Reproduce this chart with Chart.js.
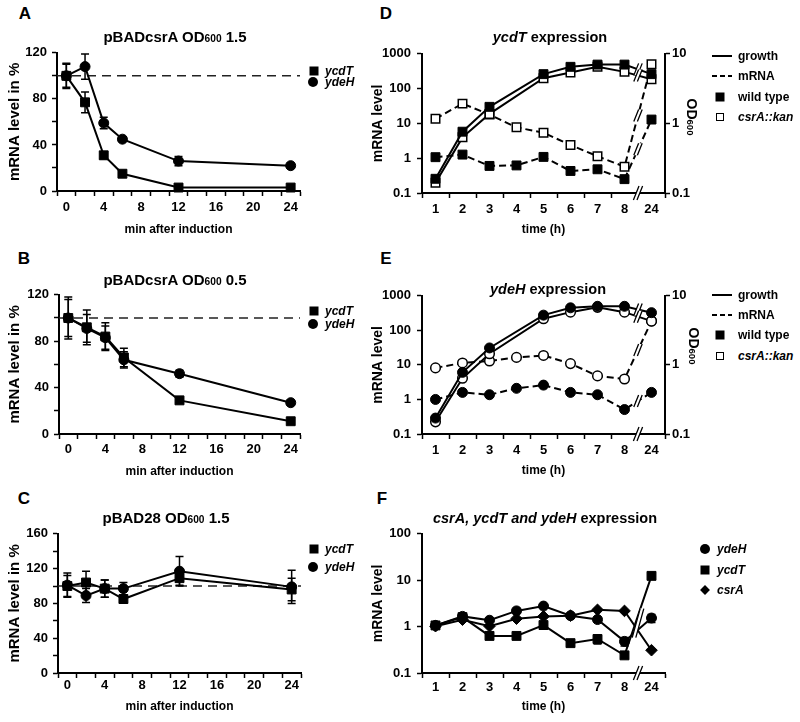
<!DOCTYPE html>
<html>
<head>
<meta charset="utf-8">
<title>csrA, ycdT and ydeH expression</title>
<script src="https://cdn.jsdelivr.net/npm/chart.js@4.4.1/dist/chart.umd.min.js"></script>
<style>
  body { margin: 0; background: #fff; }
  #fig { position: relative; width: 800px; height: 722px; overflow: hidden;
         font-family: "Liberation Sans", Arial, sans-serif; font-weight: bold; color: #000; }
  canvas { position: absolute; }
  .t { position: absolute; white-space: nowrap; transform: translate(-50%, -50%); line-height: 1; }
  .s { font-size: 0.68em; }
  .lt { position: absolute; white-space: nowrap; transform: translateY(-50%); font-size: 12px; line-height: 1; }
  .mk { position: absolute; box-sizing: border-box; transform: translate(-50%, -50%); }
  .fs { width: 9px; height: 9px; background: #000; }
  .os { width: 8px; height: 8px; border: 1.5px solid #000; background: #fff; }
  .fc { width: 10px; height: 10px; border-radius: 50%; background: #000; }
  .fd { width: 7px; height: 7px; background: #000; transform: translate(-50%, -50%) rotate(45deg); }
  .ln { width: 20px; height: 2px; background: #000; transform: translateY(-50%); }
  .dl { width: 20px; height: 2px; transform: translateY(-50%);
        background: repeating-linear-gradient(90deg, #000 0 5px, transparent 5px 8px); }
</style>
</head>
<body>
<div id="fig">
  <canvas id="cA" style="left:0;top:40px" width="310" height="200"></canvas>
  <canvas id="cB" style="left:0;top:282px" width="310" height="200"></canvas>
  <canvas id="cC" style="left:0;top:521px" width="310" height="200"></canvas>
  <canvas id="cD" style="left:365px;top:40px" width="335" height="200"></canvas>
  <canvas id="cE" style="left:365px;top:282px" width="335" height="200"></canvas>
  <canvas id="cF" style="left:365px;top:520px" width="310" height="201"></canvas>

  <!-- panel letters -->
  <div class="t" style="left:25px;top:13px;font-size:17px">A</div>
  <div class="t" style="left:24px;top:258px;font-size:17px">B</div>
  <div class="t" style="left:24px;top:498px;font-size:17px">C</div>
  <div class="t" style="left:386px;top:13px;font-size:17px">D</div>
  <div class="t" style="left:386px;top:258px;font-size:17px">E</div>
  <div class="t" style="left:382px;top:498px;font-size:17px">F</div>

  <!-- panel titles -->
  <div class="t" style="left:175px;top:37px;font-size:15px">pBADcsrA OD<span class="s">600</span> 1.5</div>
  <div class="t" style="left:175px;top:280px;font-size:15px">pBADcsrA OD<span class="s">600</span> 0.5</div>
  <div class="t" style="left:166px;top:518px;font-size:15px">pBAD28 OD<span class="s">600</span> 1.5</div>
  <div class="t" style="left:550px;top:37px;font-size:14.5px"><i>ycdT</i> expression</div>
  <div class="t" style="left:548px;top:289px;font-size:14.5px"><i>ydeH</i> expression</div>
  <div class="t" style="left:545px;top:518px;font-size:14.5px"><i>csrA, ycdT and ydeH</i> expression</div>

  <!-- right axis titles -->
  <div class="t" style="left:692px;top:117px;font-size:14px;transform:translate(-50%,-50%) rotate(90deg)">OD<span class="s">600</span></div>
  <div class="t" style="left:694px;top:346px;font-size:14px;transform:translate(-50%,-50%) rotate(90deg)">OD<span class="s">600</span></div>

  <!-- legends A-C -->
  <div class="mk fs" style="left:314px;top:71px"></div><div class="lt" style="left:325px;top:71px"><i>ycdT</i></div>
  <div class="mk fc" style="left:313px;top:82px"></div><div class="lt" style="left:325px;top:82px"><i>ydeH</i></div>
  <div class="mk fs" style="left:314px;top:311px"></div><div class="lt" style="left:325px;top:311px"><i>ycdT</i></div>
  <div class="mk fc" style="left:313px;top:324px"></div><div class="lt" style="left:325px;top:324px"><i>ydeH</i></div>
  <div class="mk fs" style="left:314px;top:549px"></div><div class="lt" style="left:325px;top:549px"><i>ycdT</i></div>
  <div class="mk fc" style="left:313px;top:567px"></div><div class="lt" style="left:325px;top:567px"><i>ydeH</i></div>

  <!-- legend D -->
  <div class="mk ln" style="left:712px;top:56px;transform:translateY(-50%)"></div><div class="lt" style="left:738px;top:56px">growth</div>
  <div class="mk dl" style="left:712px;top:76px;transform:translateY(-50%)"></div><div class="lt" style="left:738px;top:76px">mRNA</div>
  <div class="mk fs" style="left:720px;top:97px"></div><div class="lt" style="left:738px;top:97px">wild type</div>
  <div class="mk os" style="left:720px;top:117px"></div><div class="lt" style="left:738px;top:117px"><i>csrA::kan</i></div>

  <!-- legend E -->
  <div class="mk ln" style="left:712px;top:295px;transform:translateY(-50%)"></div><div class="lt" style="left:738px;top:295px">growth</div>
  <div class="mk dl" style="left:712px;top:315px;transform:translateY(-50%)"></div><div class="lt" style="left:738px;top:315px">mRNA</div>
  <div class="mk fs" style="left:720px;top:335px"></div><div class="lt" style="left:738px;top:335px">wild type</div>
  <div class="mk os" style="left:720px;top:356px"></div><div class="lt" style="left:738px;top:356px"><i>csrA::kan</i></div>

  <!-- legend F -->
  <div class="mk fc" style="left:705px;top:549px"></div><div class="lt" style="left:717px;top:549px"><i>ydeH</i></div>
  <div class="mk fs" style="left:705px;top:570px"></div><div class="lt" style="left:717px;top:570px"><i>ycdT</i></div>
  <div class="mk fd" style="left:705px;top:590px"></div><div class="lt" style="left:717px;top:590px"><i>csrA</i></div>
</div>

<script>
// ---- data: panels A-C (mRNA level in % after induction) ----
const minutes = [0, 2, 4, 6, 12, 24];
const minAxis = [-1, 25];
const refLevel = 100;

const aYcdT = [100, 77, 31, 15, 3, 3];
const aYcdTErr = [10, 9, 3, 1, 1, 1];
const aYdeH = [100, 108, 59, 45, 26, 22];
const aYdeHErr = [11, 11, 5, 2, 4, 2];

const bYcdT = [100, 92, 84, 66, 29, 11];
const bYcdTErr = [18, 15, 12, 8, 2, 1];
const bYdeH = [100, 91, 83, 64, 52, 27];
const bYdeHErr = [16, 12, 10, 7, 3, 2];

const cYcdT = [100, 104, 97, 85, 109, 96];
const cYcdTErr = [12, 13, 10, 4, 8, 13];
const cYdeH = [101, 89, 97, 97, 117, 99];
const cYdeHErr = [14, 8, 10, 7, 17, 19];

// ---- data: panels D-F (time course, x = hours with a break before 24) ----
const hours = ['1', '2', '3', '4', '5', '6', '7', '8', '24'];
const breakAt = 8.5;

// growth in OD600 (right axis), mRNA level (left axis)
const dGrowthWt  = [0.16, 0.76, 1.73, null, 5.1, 6.5, 7.0, 7.0, 5.1];
const dGrowthKan = [0.14, 0.63, 1.37, null, 4.46, 5.4, 6.5, 5.5, 4.3];
const dMrnaWt    = [1.07, 1.27, 0.6, 0.62, 1.09, 0.43, 0.48, 0.25, 12.9];
const dMrnaKan   = [13.6, 37, 17.9, 7.7, 5.4, 2.4, 1.14, 0.57, 500];

const eGrowthWt  = [0.17, 0.78, 1.76, null, 5.25, 6.7, 7.05, 7.05, 5.7];
const eGrowthKan = [0.15, 0.64, 1.45, null, 4.66, 5.8, 6.8, 5.8, 4.3];
const eMrnaWt    = [1.0, 1.6, 1.37, 2.1, 2.6, 1.6, 1.37, 0.51, 1.6];
const eMrnaKan   = [8.2, 11.4, 13, 16.5, 18.8, 10.9, 4.8, 3.9, 186];

const fYdeH    = [1.06, 1.66, 1.37, 2.18, 2.77, 1.72, 1.42, 0.48, 1.53];
const fYdeHErr = [0, 0, 0, 0, 0, 0, 0, 0.1, 0.3];
const fYcdT    = [1.06, 1.6, 0.63, 0.63, 1.08, 0.44, 0.54, 0.24, 12.4];
const fYcdTErr = [0, 0.25, 0, 0, 0, 0, 0.12, 0.03, 0];
const fCsrA    = [1.02, 1.41, 1.02, 1.48, 1.66, 1.72, 2.3, 2.18, 0.31];

// ---- helpers ----
Chart.defaults.font.family = '"Liberation Sans", Arial, sans-serif';
Chart.defaults.font.weight = 'bold';
Chart.defaults.color = '#000';

const pairs = (xs, ys) => xs.map((x, i) => ({x, y: ys[i]}));
const hourPts = ys => ys.map((y, i) => ({x: i + 1, y}));
const isDecade = v => Math.abs(Math.log10(v) - Math.round(Math.log10(v))) < 1e-6;
const decadeLabel = v => {
  if (!isDecade(v)) return '';
  const e = Math.round(Math.log10(v));
  return e < 0 ? (10 ** e).toFixed(-e) : String(10 ** e);
};
const hide = 'rgba(0,0,0,0)';
const tickFont = {size: 13, weight: 'bold'};
const axisBorder = {display: true, color: '#000', width: 2};

const markers = {
  sq:  {pointStyle: 'rect', pointRadius: 6.3, pointBackgroundColor: '#000'},
  osq: {pointStyle: 'rect', pointRadius: 6, pointBackgroundColor: '#fff', pointBorderWidth: 1.5},
  ci:  {pointStyle: 'circle', pointRadius: 5, pointBackgroundColor: '#000'},
  oci: {pointStyle: 'circle', pointRadius: 4.8, pointBackgroundColor: '#fff', pointBorderWidth: 1.5},
  di:  {pointStyle: 'rectRot', pointRadius: 5.8, pointBackgroundColor: '#000'}
};

function line(points, marker, extra) {
  return Object.assign({
    data: points, borderColor: '#000', borderWidth: 2, pointBorderColor: '#000',
    pointBorderWidth: 1, pointHoverRadius: 0, clip: false, spanGaps: true, tension: 0
  }, markers[marker], extra || {});
}

// vertical error bars from dataset.errors
const errorBars = {
  id: 'errorBars',
  afterDatasetsDraw(chart) {
    const {ctx} = chart;
    chart.data.datasets.forEach((ds, i) => {
      if (!ds.errors) return;
      const meta = chart.getDatasetMeta(i);
      const ys = chart.scales[meta.yAxisID];
      ctx.save();
      ctx.strokeStyle = '#000';
      ctx.lineWidth = 1.5;
      meta.data.forEach((pt, j) => {
        const e = ds.errors[j];
        if (!e) return;
        const v = ds.data[j].y;
        const top = ys.getPixelForValue(v + e);
        const bot = ys.getPixelForValue(Math.max(v - e, ys.min));
        ctx.beginPath();
        ctx.moveTo(pt.x, top); ctx.lineTo(pt.x, bot);
        ctx.moveTo(pt.x - 4, top); ctx.lineTo(pt.x + 4, top);
        ctx.moveTo(pt.x - 4, bot); ctx.lineTo(pt.x + 4, bot);
        ctx.stroke();
      });
      ctx.restore();
    });
  }
};

function slash(ctx, x, y, h) {
  const g = 1.8, s = Math.min(h * 0.4, 4);
  ctx.fillStyle = '#fff';
  ctx.beginPath();
  ctx.moveTo(x - g - s, y + h); ctx.lineTo(x - g + s, y - h);
  ctx.lineTo(x + g + s, y - h); ctx.lineTo(x + g - s, y + h);
  ctx.closePath();
  ctx.fill();
  ctx.strokeStyle = '#000';
  ctx.lineWidth = 1.3;
  ctx.beginPath();
  ctx.moveTo(x - g - s, y + h); ctx.lineTo(x - g + s, y - h);
  ctx.moveTo(x + g - s, y + h); ctx.lineTo(x + g + s, y - h);
  ctx.stroke();
}

// "//" marks on the x axis and on every line between 8 h and 24 h
const axisBreaks = {
  id: 'axisBreaks',
  afterDatasetsDraw(chart, args, opts) {
    const {ctx, chartArea} = chart;
    const bx = chart.scales.x.getPixelForValue(breakAt);
    const i0 = Math.floor(breakAt) - 1;
    const mids = [];
    chart.data.datasets.forEach((ds, i) => {
      const pts = chart.getDatasetMeta(i).data;
      const a = pts[i0], b = pts[i0 + 1];
      mids.push({x: (a.x + b.x) / 2, y: (a.y + b.y) / 2});
    });
    ctx.save();
    if (opts.group) {
      const ys = mids.map(m => m.y);
      const lo = Math.min(...ys), hi = Math.max(...ys);
      slash(ctx, bx, (lo + hi) / 2, (hi - lo) / 2 + 7);
    } else {
      mids.forEach(m => slash(ctx, m.x, m.y, 6));
    }
    slash(ctx, bx, chartArea.bottom, 7);
    ctx.restore();
  }
};

// ---- panels A-C ----
function courseChart(id, p, yMax, ycdT, ycdTErr, ydeH, ydeHErr) {
  return new Chart(document.getElementById(id), {
    type: 'line',
    data: {datasets: [
      line(pairs(minutes, ydeH), 'ci', {errors: ydeHErr}),
      line(pairs(minutes, ycdT), 'sq', {errors: ycdTErr}),
      {data: [{x: minAxis[0], y: refLevel}, {x: minAxis[1], y: refLevel}], borderColor: '#222',
       borderWidth: 1.5, borderDash: [9, 6], pointRadius: 0, clip: false}
    ]},
    options: {
      responsive: false, animation: false, events: [],
      layout: {padding: {top: p.top, right: p.right, left: 0, bottom: 0}},
      plugins: {legend: {display: false}, tooltip: {enabled: false}},
      scales: {
        x: {
          type: 'linear', min: minAxis[0], max: minAxis[1],
          afterFit: s => { s.height = p.xh; },
          border: axisBorder,
          grid: {drawOnChartArea: false, tickLength: 5, tickWidth: 1.5,
                 tickColor: c => Math.abs(c.tick.value % 2) === 1 ? '#000' : hide},
          ticks: {stepSize: 1, autoSkip: false, maxRotation: 0, padding: p.xPad, font: tickFont,
                  callback: v => (v >= 0 && v % 4 === 0) ? String(v) : ''},
          title: {display: true, text: 'min after induction', font: {size: 12, weight: 'bold'},
                  padding: {top: 0, bottom: p.xTitle}}
        },
        y: {
          min: 0, max: yMax,
          afterFit: s => { s.width = p.yw; },
          border: axisBorder,
          grid: {drawOnChartArea: false, tickLength: 5, tickWidth: 1.5, tickColor: '#000'},
          ticks: {stepSize: 20, autoSkip: false, padding: 5, font: tickFont,
                  callback: v => v % 40 === 0 ? String(v) : ''},
          title: {display: true, text: 'mRNA level in %', font: {size: 15, weight: 'bold'},
                  padding: {top: 6, bottom: 0}}
        }
      }
    },
    plugins: [errorBars]
  });
}

function hourAxis(p) {
  return {
    type: 'linear', min: 0.5, max: hours.length + 0.5,
    afterFit: s => { s.height = p.xh; },
    border: axisBorder,
    grid: {drawOnChartArea: false, tickLength: 5, tickWidth: 1.5,
           tickColor: c => (!Number.isInteger(c.tick.value) && c.tick.value !== breakAt) ? '#000' : hide},
    ticks: {stepSize: 0.5, autoSkip: false, maxRotation: 0, padding: p.xPad, font: tickFont,
            callback: v => Number.isInteger(v) ? hours[v - 1] : ''},
    title: {display: true, text: 'time (h)', font: {size: 12, weight: 'bold'},
            padding: {top: 0, bottom: p.xTitle}}
  };
}

function logAxis(p, max, pos, width, titleText) {
  const ax = {
    type: 'logarithmic', position: pos, min: 0.1, max: max,
    afterFit: s => { s.width = width; },
    border: axisBorder,
    grid: {drawOnChartArea: false, tickLength: 5, tickWidth: 1.5,
           tickColor: c => isDecade(c.tick.value) ? '#000' : hide},
    ticks: {autoSkip: false, padding: pos === 'left' ? 6 : 2, font: tickFont, callback: decadeLabel}
  };
  if (titleText) {
    ax.title = {display: true, text: titleText, font: {size: 14, weight: 'bold'}, padding: {top: 4.6, bottom: 0}};
  }
  return ax;
}

// ---- panels D-E ----
function expressionChart(id, p, growthWt, growthKan, mrnaWt, mrnaKan, mk) {
  return new Chart(document.getElementById(id), {
    type: 'line',
    data: {datasets: [
      line(hourPts(growthWt), mk, {yAxisID: 'y2'}),
      line(hourPts(growthKan), 'o' + mk, {yAxisID: 'y2'}),
      line(hourPts(mrnaWt), mk, {borderDash: [7, 4]}),
      line(hourPts(mrnaKan), 'o' + mk, {borderDash: [7, 4]})
    ]},
    options: {
      responsive: false, animation: false, events: [],
      layout: {padding: {top: p.top, right: 0, left: 0, bottom: 0}},
      plugins: {legend: {display: false}, tooltip: {enabled: false}, axisBreaks: {group: false}},
      scales: {
        x: hourAxis(p),
        y: logAxis(p, 1000, 'left', p.yw, 'mRNA level'),
        y2: logAxis(p, 10, 'right', p.rw)
      }
    },
    plugins: [errorBars, axisBreaks]
  });
}

courseChart('cA', {top: 10, right: 10, yw: 57, xh: 49, xPad: 4, xTitle: 3}, 120, aYcdT, aYcdTErr, aYdeH, aYdeHErr);
courseChart('cB', {top: 10, right: 10, yw: 59, xh: 48, xPad: 3, xTitle: 3}, 120, bYcdT, bYcdTErr, bYdeH, bYdeHErr);
courseChart('cC', {top: 10, right: 9, yw: 58, xh: 48, xPad: 0, xTitle: 6.8}, 160, cYcdT, cYcdTErr, cYdeH, cYdeHErr);

expressionChart('cD', {top: 10, yw: 57, rw: 35, xh: 47, xPad: 4, xTitle: 3}, dGrowthWt, dGrowthKan, dMrnaWt, dMrnaKan, 'sq');
expressionChart('cE', {top: 10, yw: 57, rw: 35, xh: 48, xPad: 4, xTitle: 3.8}, eGrowthWt, eGrowthKan, eMrnaWt, eMrnaKan, 'ci');

// ---- panel F ----
const pF = {top: 10, yw: 57, xh: 48, xPad: 2, xTitle: 6.8};
new Chart(document.getElementById('cF'), {
  type: 'line',
  data: {datasets: [
    line(hourPts(fYdeH), 'ci', {errors: fYdeHErr}),
    line(hourPts(fYcdT), 'sq', {errors: fYcdTErr}),
    line(hourPts(fCsrA), 'di')
  ]},
  options: {
    responsive: false, animation: false, events: [],
    layout: {padding: {top: pF.top, right: 10, left: 0, bottom: 0}},
    plugins: {legend: {display: false}, tooltip: {enabled: false}, axisBreaks: {group: true}},
    scales: {
      x: hourAxis(pF),
      y: logAxis(pF, 100, 'left', pF.yw, 'mRNA level')
    }
  },
  plugins: [errorBars, axisBreaks]
});
</script>
</body>
</html>
